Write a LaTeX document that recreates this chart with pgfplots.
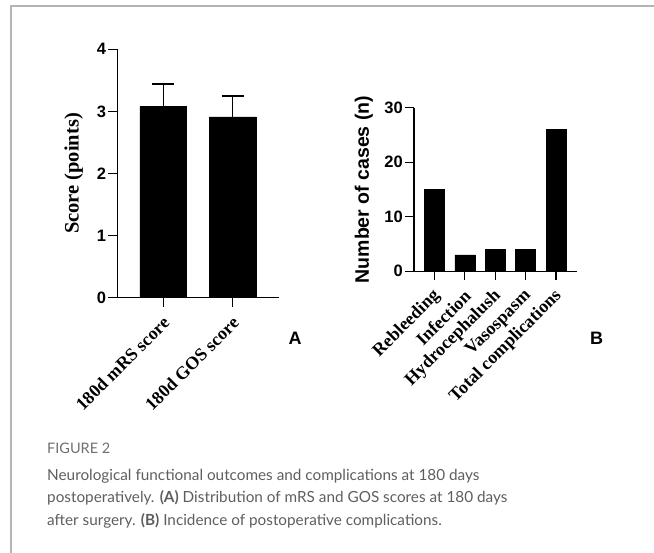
\documentclass[border=0pt]{standalone}
\usepackage{fontspec}
\setmainfont{Liberation Serif}
\setsansfont{Liberation Sans}
\newfontfamily\capfont{Lato}
\usepackage{pgfplots}
\pgfplotsset{compat=1.18}
\definecolor{capgray}{HTML}{5E5E5E}
\definecolor{figgray}{HTML}{707070}
\definecolor{bordergray}{HTML}{B4B4B4}

\newcommand{\yfont}{\sffamily\bfseries\fontsize{16.5}{16.5}\selectfont}
\newcommand{\xfont}{\rmfamily\bfseries\fontsize{18}{18}\selectfont}

\pgfplotsset{
  gpstyle/.style={
    scale only axis,
    axis x line*=bottom, axis y line*=left,
    axis line style={line width=1.3pt, -, black},
    tick align=outside, major tick length=9pt,
    every tick/.style={black, line width=1.3pt},
    tick pos=left,
    /pgf/number format/assume math mode=true,
    yticklabel={\yfont\pgfmathprintnumber{\tick}},
    yticklabel style={inner sep=1pt, xshift=-1pt},
    xticklabel style={xshift=3pt, yshift=-13pt, rotate=45, anchor=east, inner sep=0pt},
    every axis y label/.style={at={(axis description cs:0,0.5)}, rotate=90, anchor=south, inner sep=0pt},
    clip=false,
  }
}

\begin{document}
\begin{tikzpicture}
\path[use as bounding box] (0,0) rectangle (654pt,-553pt);
\draw[bordergray, line width=1.2pt] (11pt,-553pt) -- (11pt,-6pt) -- (654pt,-6pt);

% Panel A
\begin{axis}[gpstyle,
  at={(117.3pt,-297.7pt)}, anchor=south west,
  width=162pt, height=248.4pt,
  xmin=-0.663, xmax=1.671, ymin=0, ymax=4,
  xtick={0,1}, xticklabels={{\xfont 180d mRS score}, {\xfont 180d GOS score}},
  ytick={0,1,2,3,4},
  ylabel={\rmfamily\bfseries\fontsize{20.5}{20.5}\selectfont Score (points)},
  every axis y label/.append style={yshift=34pt},
]
\addplot[ybar, bar width=46.7pt, bar shift=0pt, fill=black, draw=black,
  error bars/.cd, y dir=plus, y explicit,
  error bar style={line width=1.3pt, black},
  error mark options={rotate=90, mark size=11pt, line width=1.3pt, black}]
  coordinates {(0,3.08) +- (0,0.36) (1,2.91) +- (0,0.34)};
\end{axis}

% Panel B
\begin{axis}[gpstyle,
  at={(414pt,-271.3pt)}, anchor=south west,
  width=163.3pt, height=163.5pt,
  xmin=-0.67, xmax=4.70, ymin=0, ymax=30,
  xtick={0,1,2,3,4}, xticklabels={{\xfont Rebleeding}, {\xfont Infection}, {\xfont Hydrocephalush}, {\xfont Vasospasm}, {\xfont Total complications}},
  ytick={0,10,20,30},
  ylabel={\sffamily\bfseries\fontsize{19.5}{19.5}\selectfont Number of cases (n)},
  every axis y label/.append style={yshift=41pt},
]
\addplot[ybar, bar width=20pt, bar shift=0pt, fill=black, draw=black]
  coordinates {(0,15) (1,3) (2,4) (3,4) (4,26)};
\end{axis}

\node[font=\sffamily\bfseries\fontsize{18}{18}\selectfont, inner sep=0] at (295pt,-338.5pt) {A};
\node[font=\sffamily\bfseries\fontsize{18}{18}\selectfont, inner sep=0] at (596.5pt,-338.5pt) {B};

\node[anchor=base west, font=\capfont\fontsize{14.5}{14.5}\selectfont, text=figgray, inner sep=0] at (47pt,-454pt) {FIGURE 2};
\begin{scope}[every node/.style={anchor=base west, font=\capfont\fontsize{15.3}{15.3}\selectfont, text=capgray, inner sep=0}]
\node at (47pt,-480.5pt) {Neurological functional outcomes and complications at 180 days};
\node at (47pt,-503pt) {postoperatively. \textbf{(A)} Distribution of mRS and GOS scores at 180 days};
\node at (47pt,-525.5pt) {after surgery. \textbf{(B)} Incidence of postoperative complications.};
\end{scope}
\end{tikzpicture}
\end{document}
